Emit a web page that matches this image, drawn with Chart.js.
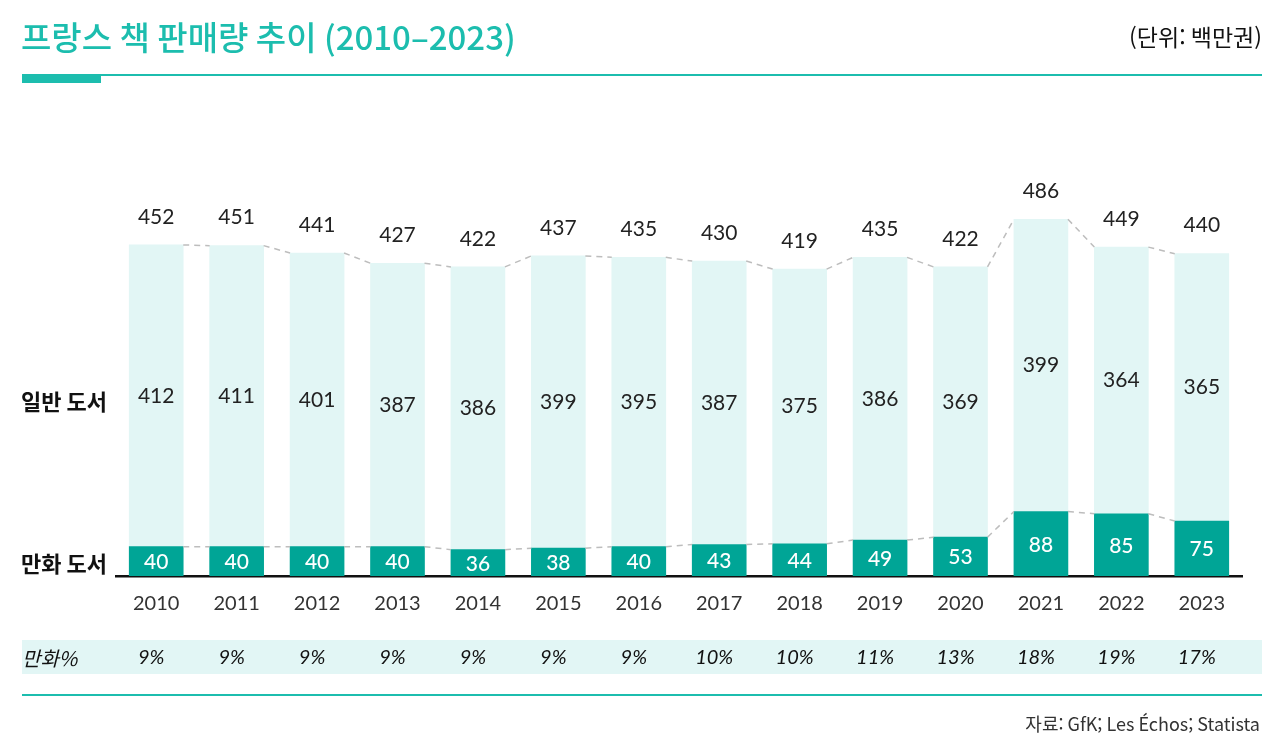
<!DOCTYPE html>
<html lang="ko">
<head>
<meta charset="utf-8">
<title>프랑스 책 판매량 추이 (2010–2023)</title>
<script src="https://cdn.jsdelivr.net/npm/chart.js@4.4.1/dist/chart.umd.min.js"></script>
<style>
  html, body { margin: 0; padding: 0; background: #fff; }
  #wrap { width: 1280px; height: 748px; position: relative; }
</style>
</head>
<body>
<div id="wrap"><canvas id="bookChart" width="1280" height="748"></canvas></div>
<script>
// 데이터 (백만권)
const years = ["2010", "2011", "2012", "2013", "2014", "2015", "2016", "2017", "2018", "2019", "2020", "2021", "2022", "2023"];
const mangaBooks = [40, 40, 40, 40, 36, 38, 40, 43, 44, 49, 53, 88, 85, 75];
const generalBooks = [412, 411, 401, 387, 386, 399, 395, 387, 375, 386, 369, 399, 364, 365];
const totals = [452, 451, 441, 427, 422, 437, 435, 430, 419, 435, 422, 486, 449, 440];
const mangaShare = ["9%", "9%", "9%", "9%", "9%", "9%", "9%", "10%", "10%", "11%", "13%", "18%", "19%", "17%"];

const TEAL = "#00a596";
const LIGHT = "#e2f6f5";
const ACCENT = "#1cbdae";
const KR = "'Noto Sans CJK KR', 'Noto Sans', sans-serif";
const NUM = "Lato, 'Noto Sans', sans-serif";

// 제목, 단위, 표, 출처 + 막대 라벨
const decorPlugin = {
  id: "decor",
  beforeDraw(chart) {
    const c = chart.ctx;
    c.save();
    c.fillStyle = "#fff";
    c.fillRect(0, 0, chart.width, chart.height);

    // 제목
    c.fillStyle = ACCENT;
    c.font = "500 33px " + KR;
    c.textBaseline = "middle";
    c.textAlign = "left";
    c.fillText("프랑스 책 판매량 추이 (2010–2023)", 21, 37);

    c.fillStyle = "#111";
    c.font = "400 23px " + KR;
    c.textAlign = "right";
    c.fillText("(단위: 백만권)", 1262, 37);

    // 상단 구분선
    c.fillStyle = ACCENT;
    c.fillRect(22, 74, 1240, 2);
    c.fillRect(22, 75, 79, 8);

    // 만화% 행
    c.fillStyle = LIGHT;
    c.fillRect(22, 640, 1240, 34);
    c.fillStyle = ACCENT;
    c.fillRect(22, 694, 1240, 2);

    c.fillStyle = "#333";
    c.font = "400 18px " + KR;
    c.textAlign = "right";
    c.fillText("자료: GfK; Les Échos; Statista", 1260, 724);
    c.restore();
  },
  afterDatasetsDraw(chart) {
    const c = chart.ctx;
    const mMeta = chart.getDatasetMeta(0);
    const gMeta = chart.getDatasetMeta(1);
    c.save();

    // 점선 연결
    c.strokeStyle = "#bdbdbd";
    c.lineWidth = 1.5;
    c.setLineDash([6, 5]);
    [mMeta, gMeta].forEach((meta) => {
      for (let i = 0; i < meta.data.length - 1; i++) {
        const a = meta.data[i], b = meta.data[i + 1];
        c.beginPath();
        c.moveTo(a.x + a.width / 2, a.y);
        c.lineTo(b.x - b.width / 2, b.y);
        c.stroke();
      }
    });
    c.setLineDash([]);

    c.textAlign = "center";
    c.textBaseline = "middle";
    mMeta.data.forEach((bar, i) => {
      c.fillStyle = "#fff";
      c.font = "500 21px " + NUM;
      c.fillText(mangaBooks[i], bar.x, (bar.y + bar.base) / 2 + 1);

      const g = gMeta.data[i];
      c.fillStyle = "#222";
      c.font = "400 21px " + NUM;
      c.fillText(generalBooks[i], g.x, (g.y + g.base) / 2);
      c.fillText(totals[i], g.x, g.y - 28);

      c.fillStyle = "#111";
      c.font = "italic 400 20px " + NUM;
      c.fillText(mangaShare[i], bar.x - 5, 658);
    });

    // 시리즈 이름
    const g0 = gMeta.data[0], m0 = mMeta.data[0];
    c.fillStyle = "#111";
    c.font = "700 22px " + KR;
    c.textAlign = "left";
    c.fillText("일반 도서", 21, (g0.y + g0.base) / 2 + 6);
    c.fillText("만화 도서", 21, (m0.y + m0.base) / 2 + 2);
    c.font = "italic 400 20px " + KR;
    c.fillText("만화%", 22, 658);
    c.restore();
  }
};

new Chart(document.getElementById("bookChart"), {
  type: "bar",
  data: {
    labels: years,
    datasets: [
      { label: "만화 도서", data: mangaBooks, backgroundColor: TEAL, barThickness: 54 },
      { label: "일반 도서", data: generalBooks, backgroundColor: LIGHT, barThickness: 54 }
    ]
  },
  options: {
    responsive: false,
    animation: false,
    layout: { padding: { left: 116, right: 38, top: 136.5, bottom: 132 } },
    plugins: { legend: { display: false }, tooltip: { enabled: false } },
    scales: {
      x: {
        stacked: true,
        grid: { display: false, drawTicks: false },
        border: { display: true, color: "#111", width: 2.5 },
        ticks: { color: "#333", font: { family: NUM, size: 20 }, padding: 16 },
        afterFit: (scale) => { scale.height = 40; }
      },
      y: { stacked: true, display: false, min: 0, max: 600 }
    }
  },
  plugins: [decorPlugin]
});
</script>
</body>
</html>
